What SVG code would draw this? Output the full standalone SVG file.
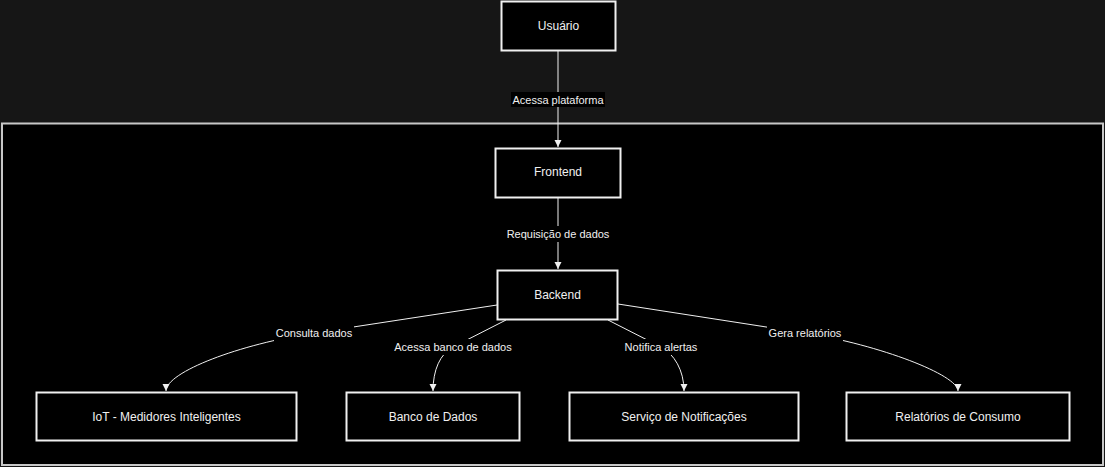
<svg xmlns="http://www.w3.org/2000/svg" width="1105" height="467" viewBox="0 0 1105 467">
<defs>
<style>
.node{fill:#000;stroke:#f0f0f0;stroke-width:2}
.nt{font-family:"Liberation Sans",Arial,sans-serif;font-size:12px;fill:#f0f0f0;text-anchor:middle;dominant-baseline:central}
.edge{fill:none;stroke:#f0f0f0;stroke-width:1}
.lt{font-family:"Liberation Sans",Arial,sans-serif;font-size:11px;fill:#f0f0f0;text-anchor:middle;dominant-baseline:central}
.lb{fill:#000}
</style>
<marker id="arr" viewBox="0 0 8 8" refX="7" refY="4" markerWidth="8" markerHeight="8" markerUnits="userSpaceOnUse" orient="auto">
<path d="M0,0.5 L7,4 L0,7.5 Z" fill="#f0f0f0"/>
</marker>
</defs>
<rect x="0" y="0" width="1105" height="467" fill="#161616"/>
<g id="container">
<rect x="2" y="123.5" width="1101" height="341.5" fill="#000" stroke="#c8c8c8" stroke-width="2"/>
</g>
<g id="connectors">
<g id="e-usuario-frontend">
<path class="edge" d="M558,51 L558,147" marker-end="url(#arr)"/>
<rect class="lb" x="511" y="92" width="94" height="15"/>
<text class="lt" x="558" y="99.5">Acessa plataforma</text>
</g>
<g id="e-frontend-backend">
<path class="edge" d="M558,198 L558,269" marker-end="url(#arr)"/>
<rect class="lb" x="505" y="226" width="106" height="16"/>
<text class="lt" x="558" y="234">Requisição de dados</text>
</g>
<g id="e-backend-iot">
<path class="edge" d="M497,305 L314,333 C240,344 166,372 166,391" marker-end="url(#arr)"/>
<rect class="lb" x="274" y="325" width="80" height="16"/>
<text class="lt" x="314" y="333">Consulta dados</text>
</g>
<g id="e-backend-banco">
<path class="edge" d="M506,320 L453,347 C440,354 433,370 433,391" marker-end="url(#arr)"/>
<rect class="lb" x="393" y="339" width="120" height="16"/>
<text class="lt" x="453" y="346.5">Acessa banco de dados</text>
</g>
<g id="e-backend-notif">
<path class="edge" d="M608,320 L661,347 C674,354 684,370 684,391" marker-end="url(#arr)"/>
<rect class="lb" x="624" y="339" width="74" height="16"/>
<text class="lt" x="661" y="346.5">Notifica alertas</text>
</g>
<g id="e-backend-relatorios">
<path class="edge" d="M618,304 L805,333 C880,345 958,375 958,391" marker-end="url(#arr)"/>
<rect class="lb" x="767" y="325" width="76" height="16"/>
<text class="lt" x="805" y="333">Gera relatórios</text>
</g>
</g>
<g id="n-usuario">
<rect class="node" x="501.5" y="1.5" width="114" height="49"/>
<text class="nt" x="558.5" y="26">Usuário</text>
</g>
<g id="n-frontend">
<rect class="node" x="495.5" y="148.5" width="125" height="49"/>
<text class="nt" x="558" y="172">Frontend</text>
</g>
<g id="n-backend">
<rect class="node" x="497.5" y="270.5" width="120" height="49"/>
<text class="nt" x="557.5" y="294.5">Backend</text>
</g>
<g id="n-iot">
<rect class="node" x="36.5" y="392.5" width="260" height="48"/>
<text class="nt" x="166.5" y="416.5">IoT - Medidores Inteligentes</text>
</g>
<g id="n-banco">
<rect class="node" x="346.5" y="392.5" width="173" height="48"/>
<text class="nt" x="433" y="416.5">Banco de Dados</text>
</g>
<g id="n-notif">
<rect class="node" x="569.5" y="392.5" width="229" height="48"/>
<text class="nt" x="684" y="416.5">Serviço de Notificações</text>
</g>
<g id="n-relatorios">
<rect class="node" x="846.5" y="392.5" width="223" height="48"/>
<text class="nt" x="958" y="416.5">Relatórios de Consumo</text>
</g>
</svg>
